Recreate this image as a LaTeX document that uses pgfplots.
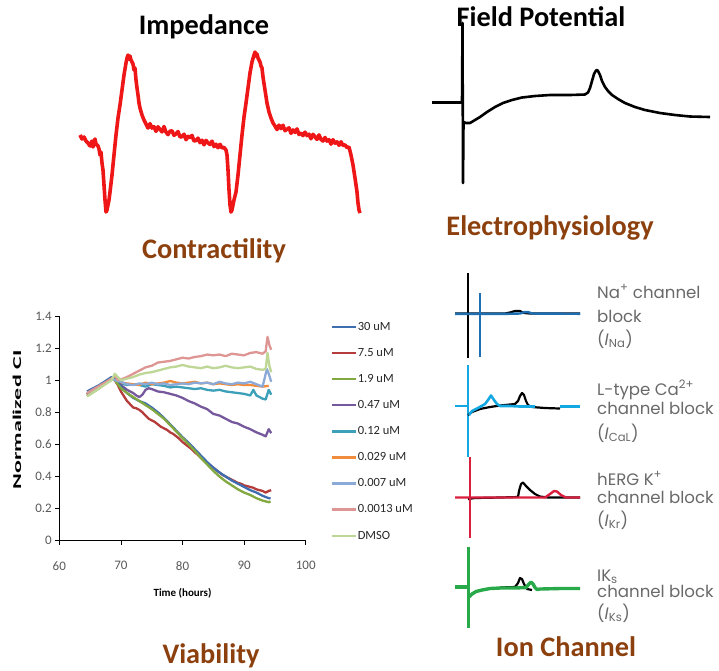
\documentclass[border=0pt]{standalone}
\usepackage{pgfplots}
\pgfplotsset{compat=1.18}
\usepackage{fontspec}
\usepackage{graphicx}
\setmainfont{Carlito}
\newfontfamily\gothic{Poppins}
\definecolor{brn}{RGB}{140,64,14}
\definecolor{imp}{RGB}{238,22,22}
\definecolor{nablue}{RGB}{30,110,178}
\definecolor{cablue}{RGB}{20,168,226}
\definecolor{kred}{RGB}{218,30,62}
\definecolor{ksgreen}{RGB}{40,170,75}
\definecolor{labgray}{RGB}{105,105,105}
\definecolor{tickgray}{RGB}{89,89,89}
\definecolor{cA}{RGB}{63,110,176}
\definecolor{cB}{RGB}{180,60,58}
\definecolor{cC}{RGB}{130,168,64}
\definecolor{cD}{RGB}{118,88,156}
\definecolor{cE}{RGB}{60,160,185}
\definecolor{cF}{RGB}{240,140,60}
\definecolor{cG}{RGB}{140,170,215}
\definecolor{cH}{RGB}{222,150,148}
\definecolor{cI}{RGB}{190,215,150}
\begin{document}
\begin{tikzpicture}
\path[use as bounding box] (0pt,0pt) rectangle (719pt,-670pt);
% ---------- canvas for traces and labels ----------
\begin{axis}[at={(0pt,-670pt)}, anchor=south west, scale only axis,
  width=719pt, height=670pt, xmin=0, xmax=719, ymin=0, ymax=670,
  y dir=reverse, hide axis, clip=false]
% Impedance trace
\addplot[imp, line width=3.6pt, line join=round] coordinates {
(80,135)(82,139)(84,137)(86,141)(88,143)(90,146)(92,141)(93,147)(95,139)(96,144)(98,146)(99,149)(100,155)(101,152)(102,163)(103,170)(104,185)(105,200)(106,212)(107,210)(108,205)(109,200)(110,192)(112,175)(114,155)(116,135)(118,118)(120,105)(122,90)(124,75)(126,63)(127,58)(128,55)(129,59)(130,56)(131,60)(133,64)(134,70)(135,68)(136,80)(137,88)(138,95)(139,103)(140,108)(142,115)(144,120)(146,124)
(148,128)(150,123.6)(152,128.1)(154,126.7)(156,131.3)(158,126.8)(160,129.4)(162,131.9)(164,126.5)(166,132.1)(168,134.6)(170,131.2)(172,130.8)(174,135.3)(176,133.9)(178,131.5)(180,137)(182,136.6)(184,134.2)(186,139.7)(188,136.3)(190,137.8)(192,135.4)(194,141)(196,140.5)(198,138.1)(200,142.7)(202,140.2)(204,144.8)(206,140.4)(208,142.9)(210,144.5)(212,141.1)(214,146.6)(216,144.2)(218,147.7)(220,144.3)(222,147.9)(224,147.4)(226,150)
(227,155)(228,170)(229,190)(230,205)(231,212)(232,210)(233,205)(234,200)(236,192)(238,175)(240,155)(242,135)(244,117)(246,103)(248,88)(250,73)(252,62)(254,55)(255,52)(256,56)(257,54)(258,58)(260,62)(261,66)(262,68)(263,77)(265,90)(267,103)(269,112)(271,118)(273,123)
(275,126)(277,129.5)(279,125.1)(281,128.6)(283,125.2)(285,130.7)(287,129.2)(289,127.8)(291,133.3)(293,129.9)(295,132.4)(297,128.9)(299,134.5)(301,133)(303,135.6)(305,132.1)(307,135.6)(309,134.2)(311,138.7)(313,134.3)(315,136.8)(317,139.4)(319,134.9)(321,139.4)(323,141)(325,137.5)(327,141.1)(329,139.6)(331,144.1)(333,139.7)(335,143.2)(337,141.8)(339,145.3)(341,141.8)(343,145.4)(345,144.9)(347,147.5)(349,147)
(351,155)(353,165)(355,178)(357,192)(358,203)(359,210)(360,213)};
% Field potential trace
\addplot[black, line width=2.6pt, line join=round] coordinates {
(432,102.5)(462,102.5)(462.5,23)(463,183)(463.5,122)(466,123)(470,123)(475,120)(480,117)(487,112)(495,107)(503,103)(512,100)(522,97.5)(535,96)(550,95)(570,95)(585,94.5)(588,92.5)(590,88)(592,81)(594,74)(596,70.5)(597,70)(598,71)(600,75)(602,81)(605,87)(608,91)(612,95)(618,99)(625,103)(635,107)(645,110)(660,113)(675,115)(690,116.5)(710,117)};
% Na+ panel
\addplot[black, line width=2.2pt] coordinates {(468,273)(468,358)};
\addplot[black, line width=2.2pt] coordinates {(455,313.5)(505,313.5)(510,312.5)(515,311)(520,311)(524,313)(530,313.5)(580,313.5)};
\addplot[nablue, line width=2.4pt] coordinates {(455,313.8)(508,313.8)(520,313.5)(524,312.2)(528,312)(532,313.5)(580,313.8)};
\addplot[nablue, line width=2.4pt] coordinates {(480,293)(480,357)};
% L-type Ca panel
\addplot[cablue, line width=2.6pt] coordinates {(455,406)(468,406)};
\addplot[cablue, line width=2.6pt] coordinates {(468,365)(468,457)};
\addplot[black, line width=2.2pt, line join=round] coordinates {(468,415)(472,412)(480,409)(490,407)(500,405.5)(510,404.5)(515,404)(518,401)(520,396)(522,393)(524,395)(526,401)(528,405)(532,407)(545,408)(560,408.5)};
\addplot[cablue, line width=2.6pt, line join=round] coordinates {(469,415)(472,411)(478,408)(485,404)(488,400)(491,395.5)(494,400)(497,404)(500,406)(510,406)(520,406.5)(535,406.5)};
\addplot[cablue, line width=2.6pt] coordinates {(560,406.5)(580,406.5)};
% hERG panel
\addplot[black, line width=2.2pt, line join=round] coordinates {(468,499)(475,498)(500,497.5)(518,497)(519,491)(521,484)(523,482.5)(526,486)(530,490)(535,494)(540,496.5)(548,497.5)(580,497.5)};
\addplot[kred, line width=2.4pt, line join=round] coordinates {(455,497.5)(518,497.5)(528,497.5)(545,497.5)(550,494)(554,491)(557,491.5)(561,495)(566,497.5)(580,497.5)};
\addplot[kred, line width=2.4pt] coordinates {(470,457)(470,538)};
% IKs panel
\addplot[black, line width=2.2pt, line join=round] coordinates {(500,587.5)(515,587)(518,583)(520,578)(522,579)(524,584)(527,589)(532,590)};
\addplot[ksgreen, line width=3.4pt] coordinates {(455,587)(468,587)};
\addplot[ksgreen, line width=3pt] coordinates {(468,546.7)(468,628)};
\addplot[ksgreen, line width=3.4pt, line join=round] coordinates {(469,597)(472,594)(476,591.5)(482,590)(490,588.5)(500,588)(515,588)(526,587.5)(529,584)(531,582)(533,584)(535,587.5)(537,589.5)(540,589)(560,588.5)(580,588.5)};
% Titles
\node[font=\fontsize{28.3}{32}\selectfont\bfseries] at (204,27) {Impedance};
\node[font=\fontsize{28.3}{32}\selectfont\bfseries] at (541,17) {Field Potential};
\node[font=\fontsize{28.3}{32}\selectfont\bfseries, text=brn] at (214,251) {Contractility};
\node[font=\fontsize{28.3}{32}\selectfont\bfseries, text=brn] at (550,228) {Electrophysiology};
\node[font=\fontsize{28.3}{32}\selectfont\bfseries, text=brn, anchor=base, inner sep=0pt] at (211,663) {Viability};
\node[font=\fontsize{28.3}{32}\selectfont\bfseries, text=brn] at (566,647) {Ion Channel};
% Ion channel labels
\begin{scope}[every node/.style={anchor=base west, inner sep=0pt, text=labgray, font=\gothic\fontsize{16.6}{18}\selectfont}]
\node at (597,298) {Na\textsuperscript{+} channel};
\node at (597,322) {block};
\node at (597,345) {({\itshape I}\textsubscript{Na})};
\node at (597,395) {L-type Ca\textsuperscript{2+}};
\node at (597,414) {channel block};
\node at (597,439) {({\itshape I}\textsubscript{CaL})};
\node at (597,485) {hERG K\textsuperscript{+}};
\node at (597,503) {channel block};
\node at (597,526) {({\itshape I}\textsubscript{Kr})};
\node at (597,581) {IK\textsubscript{s}};
\node at (597,597) {channel block};
\node at (597,619) {({\itshape I}\textsubscript{Ks})};
\end{scope}
\end{axis}
% ---------- Viability chart ----------
\begin{axis}[at={(59.3pt,-540.7pt)}, anchor=south west, scale only axis,
  width=246.4pt, height=224.7pt, xmin=60, xmax=100, ymin=0, ymax=1.4,
  axis x line*=bottom, axis y line*=left, axis line style={black, line width=0.9pt},
  tick align=outside, major tick length=4pt, tick style={black, line width=0.8pt},
  xtick={60,70,80,90,100}, xticklabels={60,70,80,90,100},
  ytick={0,0.2,0.4,0.6,0.8,1,1.2,1.4}, yticklabels={0,0.2,0.4,0.6,0.8,1,1.2,1.4},
  ticklabel style={font=\fontsize{13}{15}\selectfont, text=tickgray},
  xticklabel style={yshift=-13pt},
  xlabel={Time (hours)}, ylabel={\scalebox{2.0}[1]{Normalized CI}},
  xlabel style={at={(axis description cs:0.5,-0.236)}, anchor=center, font=\fontsize{11}{13}\selectfont\bfseries},
  ylabel style={at={(axis description cs:-0.172,0.537)}, anchor=center, font=\fontsize{12}{13}\selectfont\bfseries},
  every axis plot/.append style={line width=2.3pt, line join=round},
  legend style={at={(axis description cs:1.099,0.978)}, anchor=north west, draw=none, fill=none,
    font=\fontsize{12.5}{14}\selectfont, row sep=14.5pt, inner sep=0pt,
    nodes={inner sep=1pt, text=black!85}},
  legend cell align=left,
  legend image code/.code={\draw[#1, line width=2.5pt] (0pt,0pt) -- (24pt,0pt);},
  clip=false]
\addplot[cE, forget plot] coordinates {(64.5,0.91)(66.5,0.96)(68.5,1.01)(69,1.0)(70,0.98)(71,0.97)(72,0.975)(73,0.97)(74,0.96)(75,0.975)(76,0.97)(77,0.965)(78,0.955)(79,0.96)(80,0.955)(81,0.95)(82,0.945)(83,0.95)(84,0.94)(85,0.935)(86,0.94)(87,0.93)(88,0.925)(89,0.92)(90,0.915)(91,0.905)(91.5,0.94)(92,0.905)(93,0.885)(93.5,0.88)(94,0.94)(94.4,0.91)};
\addplot[cF, forget plot] coordinates {(64.5,0.91)(66.5,0.96)(68.5,1.01)(69,1.0)(70,0.985)(71,0.98)(72,0.975)(73,0.97)(74,0.985)(75,0.975)(76,0.98)(77,0.985)(78,0.995)(79,0.985)(80,0.98)(81,0.985)(82,0.99)(83,0.98)(84,0.985)(85,0.975)(86,0.98)(87,0.975)(88,0.97)(89,0.975)(90,0.97)(91,0.97)(92,0.965)(93,0.96)(94,0.965)};
\addplot[cD, forget plot] coordinates {(64.5,0.91)(66.5,0.96)(68.5,1.01)(69,1.0)(70,0.97)(71,0.94)(72,0.92)(72.5,0.905)(73,0.895)(73.5,0.91)(74,0.94)(74.5,0.95)(75,0.945)(76,0.93)(77,0.925)(78,0.915)(79,0.905)(80,0.89)(81,0.87)(82,0.855)(83,0.835)(84,0.82)(85,0.79)(86,0.78)(87,0.76)(88,0.74)(89,0.73)(90,0.71)(91,0.695)(92,0.675)(93,0.66)(93.5,0.65)(94,0.695)(94.4,0.67)};
\addplot[cB, forget plot] coordinates {(64.5,0.91)(66.5,0.96)(68.5,1.01)(69,1.0)(69.5,0.97)(70,0.93)(70.5,0.90)(71,0.87)(71.5,0.85)(72,0.83)(72.5,0.825)(73,0.815)(73.5,0.80)(74,0.78)(74.5,0.76)(75,0.75)(75.5,0.74)(76,0.725)(76.5,0.71)(77,0.70)(77.5,0.69)(78,0.675)(78.5,0.665)(79,0.65)(79.5,0.635)(80,0.615)(80.5,0.60)(81,0.585)(81.5,0.57)(82,0.55)(82.5,0.535)(83,0.515)(83.5,0.50)(84,0.485)(84.5,0.47)(85,0.455)(85.5,0.44)(86,0.425)(86.5,0.41)(87,0.40)(87.5,0.39)(88,0.38)(88.5,0.37)(89,0.36)(89.5,0.355)(90,0.345)(90.5,0.34)(91,0.335)(91.5,0.33)(92,0.32)(92.5,0.315)(93,0.31)(93.5,0.30)(94,0.31)(94.4,0.315)};
\addplot[cA, forget plot] coordinates {(64.5,0.93)(66.5,0.97)(68.5,1.02)(69,1.01)(69.5,0.99)(70,0.96)(71,0.92)(72,0.89)(73,0.87)(74,0.855)(75,0.83)(76,0.80)(77,0.765)(78,0.725)(79,0.685)(80,0.645)(81,0.61)(82,0.57)(83,0.53)(84,0.49)(85,0.455)(86,0.425)(87,0.40)(88,0.375)(89,0.355)(90,0.335)(91,0.315)(92,0.30)(93,0.28)(94,0.265)(94.3,0.265)};
\addplot[cC, forget plot] coordinates {(64.5,0.90)(66.5,0.95)(68.5,1.01)(69,1.0)(70,0.95)(71,0.92)(72,0.895)(73,0.87)(74,0.845)(75,0.82)(76,0.79)(77,0.76)(78,0.72)(79,0.68)(80,0.64)(81,0.60)(82,0.56)(83,0.515)(84,0.475)(85,0.435)(86,0.40)(87,0.37)(88,0.345)(89,0.32)(90,0.30)(91,0.285)(92,0.265)(93,0.25)(94,0.24)(94.3,0.245)};
\addplot[cG, forget plot] coordinates {(64.5,0.92)(66.5,0.96)(68.5,1.01)(69,1.0)(70,0.99)(71,0.975)(72,0.97)(73,0.98)(74,0.975)(75,0.985)(76,0.975)(77,0.98)(78,0.97)(79,0.975)(80,0.98)(81,0.975)(82,0.985)(83,0.98)(84,0.985)(85,0.975)(86,0.99)(87,0.98)(88,0.975)(89,0.985)(90,0.98)(91,0.99)(92,0.975)(93,0.96)(93.7,1.07)(94,1.04)(94.4,0.99)};
\addplot[cH, forget plot] coordinates {(64.5,0.92)(66.5,0.965)(68.5,1.01)(69,1.03)(69.5,1.0)(70,1.005)(71,1.02)(72,1.04)(73,1.06)(74,1.08)(75,1.09)(76,1.11)(77,1.115)(78,1.12)(79,1.13)(80,1.14)(81,1.135)(82,1.145)(83,1.15)(84,1.16)(85,1.155)(86,1.16)(87,1.15)(88,1.165)(89,1.16)(90,1.155)(91,1.17)(92,1.175)(93,1.165)(93.5,1.18)(93.8,1.27)(94.1,1.22)(94.4,1.19)};
\addplot[cI, forget plot] coordinates {(64.5,0.90)(66.5,0.95)(68.5,1.0)(69,1.04)(69.5,1.02)(70,1.0)(71,1.01)(72,1.02)(73,1.035)(74,1.045)(75,1.05)(76,1.06)(77,1.07)(78,1.08)(79,1.085)(80,1.095)(81,1.085)(82,1.08)(83,1.075)(84,1.085)(85,1.075)(86,1.08)(87,1.09)(88,1.08)(89,1.075)(90,1.08)(91,1.085)(92,1.07)(93,1.065)(93.5,1.07)(93.8,1.17)(94.1,1.09)(94.4,1.05)};
% legend order
\addlegendimage{cA, line width=2.5pt}\addlegendentry{30 uM}
\addlegendimage{cB, line width=2.5pt}\addlegendentry{7.5 uM}
\addlegendimage{cC, line width=2.5pt}\addlegendentry{1.9 uM}
\addlegendimage{cD, line width=2.5pt}\addlegendentry{0.47 uM}
\addlegendimage{cE, line width=2.5pt}\addlegendentry{0.12 uM}
\addlegendimage{cF, line width=2.5pt}\addlegendentry{0.029 uM}
\addlegendimage{cG, line width=2.5pt}\addlegendentry{0.007 uM}
\addlegendimage{cH, line width=2.5pt}\addlegendentry{0.0013 uM}
\addlegendimage{cI, line width=2.5pt}\addlegendentry{DMSO}
\end{axis}
\end{tikzpicture}
\end{document}
